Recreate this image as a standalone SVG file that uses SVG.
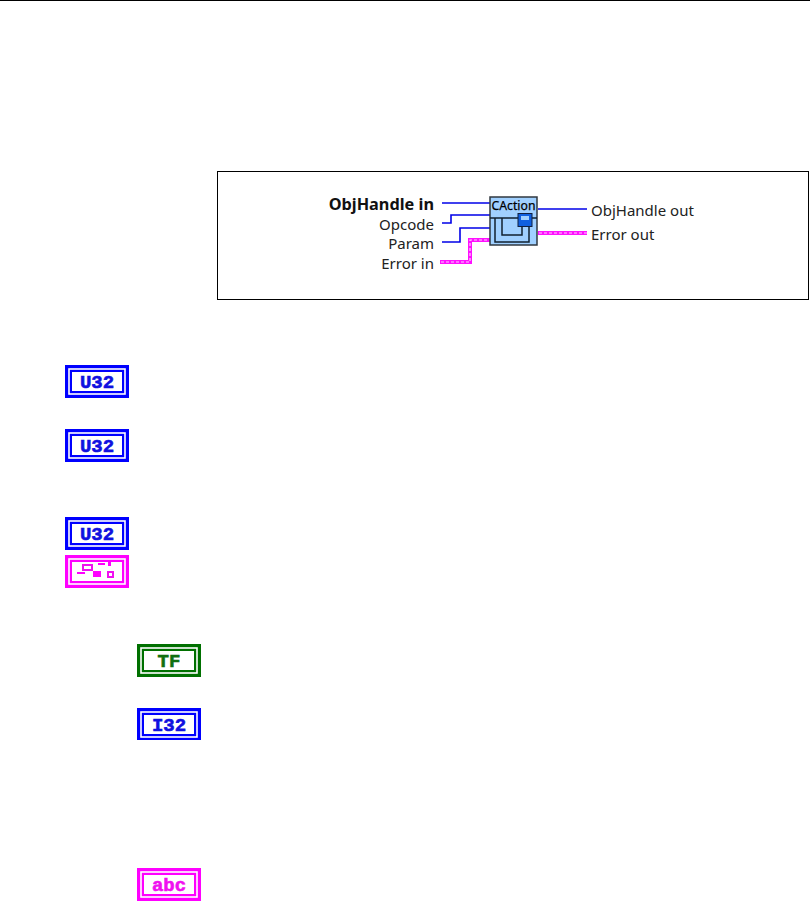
<svg xmlns="http://www.w3.org/2000/svg" width="810" height="901" viewBox="0 0 810 901">
<style>
text{font-family:"Noto Sans","DejaVu Sans",sans-serif;font-size:15px;fill:#222}
.r{text-anchor:end}
.w{fill:none;stroke:#0000e8;stroke-width:1.600}
.e{fill:none;stroke:#ff10ff;stroke-width:4}
.d{fill:none;stroke:#ffd0ff;stroke-width:1.200;stroke-dasharray:3 2}
.i{font-family:"Liberation Mono","DejaVu Sans Mono",monospace;font-weight:700;font-size:19px;text-anchor:middle}
.bl{fill:#0000ff}.pk{fill:#ff00ff}.gr{fill:#007000}
.ibl{fill:#1010e0;stroke:#1010e0;stroke-width:.6}.ipk{fill:#f010f0;stroke:#f010f0;stroke-width:.6}.igr{fill:#107010;stroke:#107010;stroke-width:.6}
</style>
<defs>
<g id="frame">
<rect x="4" y="4" width="56" height="25" fill="none" stroke="#fff" stroke-width="1.600"/>
<rect x="7" y="7" width="50" height="19" fill="#fff"/>
</g>
</defs>
<rect width="810" height="901" fill="#fff"/>
<rect x="0" y="0" width="810" height="1" fill="#000"/>
<g id="vi-frame"><rect x="217.500" y="171.500" width="591" height="128" fill="#fff" stroke="#000"/></g>
<g id="connectors">
<path class="w" d="M442 203H490"/>
<path class="w" d="M442 223H451V215H490"/>
<path class="w" d="M442 242H460V228H490"/>
<path class="e" d="M440 262H470V240H490"/><path class="d" d="M441 262H470V240H489"/>
<path class="w" d="M538 209H587"/>
<path class="e" d="M538 233H587"/><path class="d" d="M539 233H587"/>
</g>
<g id="caction">
<rect x="490" y="197" width="47" height="48" fill="#a0d0ff" stroke="#303840" stroke-width="1.500"/>
<path d="M490 218H537M502 218V235H522V226" fill="none" stroke="#102030" stroke-width="1.500"/>
<path d="M495 218V242H529V226" fill="none" stroke="#102030" stroke-width="1.500"/>
<rect x="518" y="213.500" width="14" height="13" fill="#1060e0" stroke="#102040"/>
<rect x="521" y="216" width="8" height="4" fill="#a0d0ff"/>
<text x="491.500" y="210" style="font-size:13px;fill:#000;stroke:#000;stroke-width:.25" textLength="44" lengthAdjust="spacingAndGlyphs">CAction</text>
</g>
<g id="labels">
<text class="r" x="434" y="210" style="font-weight:700;font-size:16.300px;fill:#111">ObjHandle in</text>
<text class="r" x="434" y="230">Opcode</text>
<text class="r" x="434" y="249">Param</text>
<text class="r" x="434" y="269">Error in</text>
<text x="591" y="216">ObjHandle out</text>
<text x="591" y="240">Error out</text>
</g>
<g id="icon-u32-1" transform="translate(65 365)"><rect width="64" height="33" class="bl"/><use href="#frame"/><text class="i ibl" x="32" y="22.500">U32</text></g>
<g id="icon-u32-2" transform="translate(65 429)"><rect width="64" height="33" class="bl"/><use href="#frame"/><text class="i ibl" x="32" y="22.500">U32</text></g>
<g id="icon-u32-3" transform="translate(65 517)"><rect width="64" height="33" class="bl"/><use href="#frame"/><text class="i ibl" x="32" y="22.500">U32</text></g>
<g id="icon-cluster" transform="translate(65 555)"><rect width="64" height="33" class="pk"/><use href="#frame"/>
<g fill="none" stroke="#f010f0" stroke-width="2"><rect x="18" y="10" width="9" height="5"/><rect x="43" y="17" width="5" height="5"/></g>
<g class="pk"><rect x="33" y="8" width="7" height="2"/><rect x="43" y="7" width="3" height="4"/><rect x="12" y="17" width="8" height="2"/><rect x="28" y="16" width="8" height="6"/></g>
</g>
<g id="icon-tf" transform="translate(137 644)"><rect width="64" height="33" class="gr"/><use href="#frame"/><text class="i igr" x="32" y="22.500">TF</text></g>
<g id="icon-i32" transform="translate(137 708)"><rect width="64" height="32" class="bl"/><use href="#frame"/><text class="i ibl" x="32" y="22.500">I32</text></g>
<g id="icon-abc" transform="translate(137 868)"><rect width="64" height="33" class="pk"/><use href="#frame"/><text class="i ipk" x="32" y="22.500">abc</text></g>
</svg>
